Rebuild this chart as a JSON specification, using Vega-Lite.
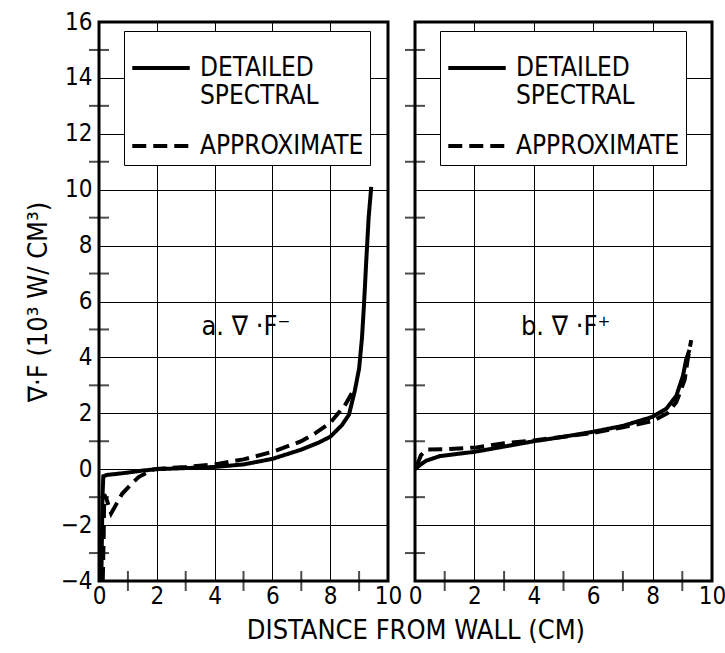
{
  "$schema": "https://vega.github.io/schema/vega-lite/v6.json",
  "background": "white",
  "padding": {"left": 22, "top": 8, "right": 2, "bottom": 4},
  "spacing": 27,
  "bounds": "flush",
  "datasets": {
    "a": [
      {"series": "DETAILED SPECTRAL", "i": 1, "x": 0.08, "y": -4.0},
      {"series": "DETAILED SPECTRAL", "i": 2, "x": 0.1, "y": -2.5},
      {"series": "DETAILED SPECTRAL", "i": 3, "x": 0.12, "y": -1.0},
      {"series": "DETAILED SPECTRAL", "i": 4, "x": 0.15, "y": -0.25},
      {"series": "DETAILED SPECTRAL", "i": 5, "x": 0.3, "y": -0.2},
      {"series": "DETAILED SPECTRAL", "i": 6, "x": 0.6, "y": -0.17},
      {"series": "DETAILED SPECTRAL", "i": 7, "x": 1.0, "y": -0.12},
      {"series": "DETAILED SPECTRAL", "i": 8, "x": 1.5, "y": -0.05},
      {"series": "DETAILED SPECTRAL", "i": 9, "x": 2.0, "y": 0.0},
      {"series": "DETAILED SPECTRAL", "i": 10, "x": 3.0, "y": 0.04},
      {"series": "DETAILED SPECTRAL", "i": 11, "x": 4.0, "y": 0.08},
      {"series": "DETAILED SPECTRAL", "i": 12, "x": 5.0, "y": 0.17},
      {"series": "DETAILED SPECTRAL", "i": 13, "x": 6.0, "y": 0.37},
      {"series": "DETAILED SPECTRAL", "i": 14, "x": 7.0, "y": 0.7},
      {"series": "DETAILED SPECTRAL", "i": 15, "x": 7.6, "y": 0.95},
      {"series": "DETAILED SPECTRAL", "i": 16, "x": 8.0, "y": 1.16},
      {"series": "DETAILED SPECTRAL", "i": 17, "x": 8.4, "y": 1.57},
      {"series": "DETAILED SPECTRAL", "i": 18, "x": 8.65, "y": 1.95},
      {"series": "DETAILED SPECTRAL", "i": 19, "x": 8.85, "y": 2.8},
      {"series": "DETAILED SPECTRAL", "i": 20, "x": 9.0, "y": 3.6},
      {"series": "DETAILED SPECTRAL", "i": 21, "x": 9.1, "y": 4.7},
      {"series": "DETAILED SPECTRAL", "i": 22, "x": 9.17, "y": 5.9},
      {"series": "DETAILED SPECTRAL", "i": 23, "x": 9.25, "y": 7.5},
      {"series": "DETAILED SPECTRAL", "i": 24, "x": 9.33, "y": 9.0},
      {"series": "DETAILED SPECTRAL", "i": 25, "x": 9.42, "y": 10.1},
      {"series": "APPROXIMATE", "i": 1, "x": 0.13, "y": -4.0},
      {"series": "APPROXIMATE", "i": 2, "x": 0.16, "y": -2.5},
      {"series": "APPROXIMATE", "i": 3, "x": 0.18, "y": -0.9},
      {"series": "APPROXIMATE", "i": 4, "x": 0.27, "y": -1.1},
      {"series": "APPROXIMATE", "i": 5, "x": 0.42, "y": -1.58},
      {"series": "APPROXIMATE", "i": 6, "x": 0.6, "y": -1.25},
      {"series": "APPROXIMATE", "i": 7, "x": 0.8, "y": -0.88},
      {"series": "APPROXIMATE", "i": 8, "x": 1.1, "y": -0.55},
      {"series": "APPROXIMATE", "i": 9, "x": 1.37, "y": -0.28},
      {"series": "APPROXIMATE", "i": 10, "x": 1.9, "y": 0.0},
      {"series": "APPROXIMATE", "i": 11, "x": 2.5, "y": 0.05},
      {"series": "APPROXIMATE", "i": 12, "x": 3.0, "y": 0.08},
      {"series": "APPROXIMATE", "i": 13, "x": 4.0, "y": 0.17},
      {"series": "APPROXIMATE", "i": 14, "x": 5.0, "y": 0.35},
      {"series": "APPROXIMATE", "i": 15, "x": 6.0, "y": 0.62},
      {"series": "APPROXIMATE", "i": 16, "x": 7.0, "y": 1.0},
      {"series": "APPROXIMATE", "i": 17, "x": 7.5, "y": 1.3},
      {"series": "APPROXIMATE", "i": 18, "x": 8.0, "y": 1.66},
      {"series": "APPROXIMATE", "i": 19, "x": 8.5, "y": 2.27},
      {"series": "APPROXIMATE", "i": 20, "x": 8.82, "y": 2.85}
    ],
    "b": [
      {"series": "DETAILED SPECTRAL", "i": 1, "x": 0.0, "y": 0.0},
      {"series": "DETAILED SPECTRAL", "i": 2, "x": 0.18, "y": 0.16},
      {"series": "DETAILED SPECTRAL", "i": 3, "x": 0.37, "y": 0.3},
      {"series": "DETAILED SPECTRAL", "i": 4, "x": 0.84, "y": 0.47},
      {"series": "DETAILED SPECTRAL", "i": 5, "x": 1.45, "y": 0.55},
      {"series": "DETAILED SPECTRAL", "i": 6, "x": 2.0, "y": 0.62},
      {"series": "DETAILED SPECTRAL", "i": 7, "x": 3.0, "y": 0.81},
      {"series": "DETAILED SPECTRAL", "i": 8, "x": 4.0, "y": 1.0},
      {"series": "DETAILED SPECTRAL", "i": 9, "x": 5.0, "y": 1.16},
      {"series": "DETAILED SPECTRAL", "i": 10, "x": 6.0, "y": 1.34},
      {"series": "DETAILED SPECTRAL", "i": 11, "x": 7.0, "y": 1.55},
      {"series": "DETAILED SPECTRAL", "i": 12, "x": 7.99, "y": 1.87},
      {"series": "DETAILED SPECTRAL", "i": 13, "x": 8.46, "y": 2.16},
      {"series": "DETAILED SPECTRAL", "i": 14, "x": 8.8, "y": 2.63},
      {"series": "DETAILED SPECTRAL", "i": 15, "x": 9.02, "y": 3.33},
      {"series": "DETAILED SPECTRAL", "i": 16, "x": 9.13, "y": 3.92},
      {"series": "DETAILED SPECTRAL", "i": 17, "x": 9.24, "y": 4.27},
      {"series": "APPROXIMATE", "i": 1, "x": 0.06, "y": 0.12},
      {"series": "APPROXIMATE", "i": 2, "x": 0.2, "y": 0.5},
      {"series": "APPROXIMATE", "i": 3, "x": 0.39, "y": 0.7},
      {"series": "APPROXIMATE", "i": 4, "x": 0.95, "y": 0.71},
      {"series": "APPROXIMATE", "i": 5, "x": 2.07, "y": 0.78},
      {"series": "APPROXIMATE", "i": 6, "x": 3.0, "y": 0.93},
      {"series": "APPROXIMATE", "i": 7, "x": 4.0, "y": 1.03},
      {"series": "APPROXIMATE", "i": 8, "x": 5.0, "y": 1.16},
      {"series": "APPROXIMATE", "i": 9, "x": 6.0, "y": 1.3},
      {"series": "APPROXIMATE", "i": 10, "x": 7.0, "y": 1.5},
      {"series": "APPROXIMATE", "i": 11, "x": 8.0, "y": 1.72},
      {"series": "APPROXIMATE", "i": 12, "x": 8.5, "y": 2.0},
      {"series": "APPROXIMATE", "i": 13, "x": 8.8, "y": 2.4},
      {"series": "APPROXIMATE", "i": 14, "x": 9.08, "y": 3.2},
      {"series": "APPROXIMATE", "i": 15, "x": 9.18, "y": 3.92},
      {"series": "APPROXIMATE", "i": 16, "x": 9.3, "y": 4.62}
    ],
    "notes_a": [{"label": "a. ∇ ·F⁻", "x": 5.08, "y": 5.1}],
    "notes_b": [{"label": "b. ∇ ·F⁺", "x": 5.07, "y": 5.1}],
    "minor_x": [{"v": 1}, {"v": 3}, {"v": 5}, {"v": 7}, {"v": 9}],
    "minor_y": [{"v": -3}, {"v": -1}, {"v": 1}, {"v": 3}, {"v": 5}, {"v": 7}, {"v": 9}, {"v": 11}, {"v": 13}, {"v": 15}]
  },
  "config": {
    "font": "DejaVu Sans Condensed, sans-serif",
    "view": {"stroke": "black", "strokeWidth": 3},
    "axis": {
      "grid": true,
      "gridColor": "black",
      "gridWidth": 1,
      "domain": false,
      "ticks": false,
      "minExtent": 0,
      "labelFont": "DejaVu Sans Condensed, sans-serif",
      "labelFontSize": 24,
      "labelColor": "black",
      "labelFlush": false,
      "labelOverlap": false,
      "titleFont": "DejaVu Sans Condensed, sans-serif",
      "titleColor": "black",
      "titleFontWeight": "normal"
    },
    "legend": {
      "orient": "none",
      "legendX": 25,
      "legendY": 9,
      "symbolType": "stroke",
      "symbolStrokeWidth": 4,
      "symbolSize": 3300,
      "symbolStrokeColor": "black",
      "strokeColor": "black",
      "fillColor": "white",
      "padding": 6,
      "labelFont": "DejaVu Sans Condensed, sans-serif",
      "labelFontSize": 26,
      "labelColor": "black",
      "labelLimit": 300,
      "rowPadding": 6,
      "labelOffset": 8
    }
  },
  "title": {
    "text": "DISTANCE FROM WALL (CM)",
    "orient": "bottom",
    "anchor": "middle",
    "font": "DejaVu Sans Condensed, sans-serif",
    "fontSize": 27,
    "fontWeight": "normal",
    "color": "black",
    "offset": 8,
    "dx": 41
  },
  "hconcat": [
    {
      "width": 289,
      "height": 559,
      "layer": [
        {
          "data": {"name": "a"},
          "mark": {"type": "line", "color": "black", "strokeWidth": 4},
          "encoding": {
            "x": {
              "field": "x", "type": "quantitative",
              "scale": {"domain": [0, 10], "nice": false},
              "axis": {"title": null, "values": [0, 2, 4, 6, 8, 10], "labelPadding": 3}
            },
            "y": {
              "field": "y", "type": "quantitative",
              "scale": {"domain": [-4, 16], "nice": false},
              "axis": {"title": "∇·F (10³ W/ CM³)", "titleFontSize": 27, "titlePadding": 8, "values": [-4, -2, 0, 2, 4, 6, 8, 10, 12, 14, 16], "labelPadding": 7}
            },
            "strokeDash": {
              "field": "series", "type": "nominal",
              "scale": {"domain": ["DETAILED SPECTRAL", "APPROXIMATE"], "range": [[1, 0], [14, 7]]},
              "legend": {"title": null, "labelExpr": "datum.label == 'DETAILED SPECTRAL' ? ['DETAILED', 'SPECTRAL'] : datum.label"}
            },
            "order": {"field": "i", "type": "quantitative"}
          }
        },
        {
          "data": {"name": "minor_x"},
          "mark": {"type": "tick", "color": "black", "thickness": 2, "size": 20, "orient": "vertical"},
          "encoding": {
            "x": {"field": "v", "type": "quantitative"},
            "y": {"datum": -4, "type": "quantitative"}
          }
        },
        {
          "data": {"name": "minor_y"},
          "mark": {"type": "tick", "color": "black", "thickness": 2, "size": 20, "orient": "horizontal"},
          "encoding": {
            "y": {"field": "v", "type": "quantitative"},
            "x": {"datum": 0, "type": "quantitative"}
          }
        },
        {
          "data": {"name": "notes_a"},
          "mark": {"type": "text", "fontSize": 27, "color": "black", "font": "DejaVu Sans Condensed, sans-serif"},
          "encoding": {
            "x": {"field": "x", "type": "quantitative"},
            "y": {"field": "y", "type": "quantitative"},
            "text": {"field": "label"}
          }
        }
      ]
    },
    {
      "width": 297,
      "height": 559,
      "layer": [
        {
          "data": {"name": "b"},
          "mark": {"type": "line", "color": "black", "strokeWidth": 4},
          "encoding": {
            "x": {
              "field": "x", "type": "quantitative",
              "scale": {"domain": [0, 10], "nice": false},
              "axis": {"title": null, "values": [0, 2, 4, 6, 8, 10], "labelPadding": 3}
            },
            "y": {
              "field": "y", "type": "quantitative",
              "scale": {"domain": [-4, 16], "nice": false},
              "axis": {"title": null, "labels": false, "values": [-4, -2, 0, 2, 4, 6, 8, 10, 12, 14, 16]}
            },
            "strokeDash": {
              "field": "series", "type": "nominal",
              "scale": {"domain": ["DETAILED SPECTRAL", "APPROXIMATE"], "range": [[1, 0], [14, 7]]},
              "legend": {"title": null, "labelExpr": "datum.label == 'DETAILED SPECTRAL' ? ['DETAILED', 'SPECTRAL'] : datum.label"}
            },
            "order": {"field": "i", "type": "quantitative"}
          }
        },
        {
          "data": {"name": "minor_x"},
          "mark": {"type": "tick", "color": "black", "thickness": 2, "size": 20, "orient": "vertical"},
          "encoding": {
            "x": {"field": "v", "type": "quantitative"},
            "y": {"datum": -4, "type": "quantitative"}
          }
        },
        {
          "data": {"name": "minor_y"},
          "mark": {"type": "tick", "color": "black", "thickness": 2, "size": 20, "orient": "horizontal"},
          "encoding": {
            "y": {"field": "v", "type": "quantitative"},
            "x": {"datum": 0, "type": "quantitative"}
          }
        },
        {
          "data": {"name": "notes_b"},
          "mark": {"type": "text", "fontSize": 27, "color": "black", "font": "DejaVu Sans Condensed, sans-serif"},
          "encoding": {
            "x": {"field": "x", "type": "quantitative"},
            "y": {"field": "y", "type": "quantitative"},
            "text": {"field": "label"}
          }
        }
      ]
    }
  ],
  "resolve": {"scale": {"strokeDash": "independent"}, "legend": {"strokeDash": "independent"}}
}
